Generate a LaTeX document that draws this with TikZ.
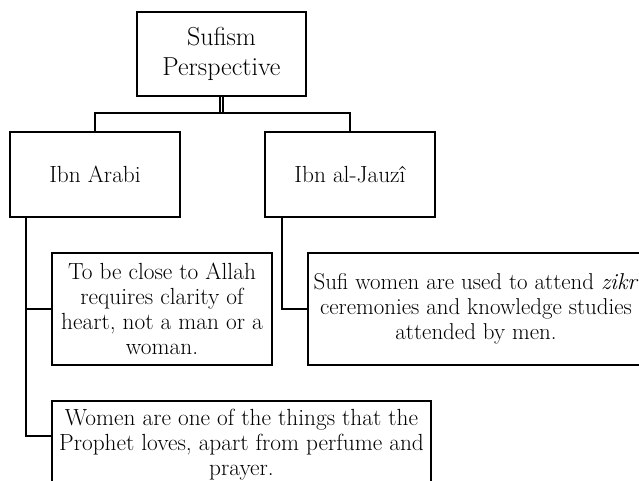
\documentclass[tikz,border=0pt]{standalone}
\usetikzlibrary{calc}
\begin{document}
\begin{tikzpicture}[x=0.75pt, y=-0.75pt,
    box/.style={draw, rectangle, line width=1.4pt, inner sep=0pt, align=center},
    link/.style={line width=1.4pt},
    txt/.style={font=\fontsize{17.5}{18.75}\selectfont}]
    \useasboundingbox (0,0) rectangle (639,481);
    \clip (0,0) rectangle (639,481);

    % Draw the root node
    \node[box, minimum width=126.75pt, minimum height=63pt, font=\fontsize{19.5}{22.5}\selectfont] (sufism) at (221.5, 54) {Sufism\\Perspective};

    % Draw nodes for the two scholars
    \node[box, txt, minimum width=127.5pt, minimum height=63.75pt] (arabi) at (95, 174.5) {Ibn Arabi};
    \node[box, txt, minimum width=127.5pt, minimum height=63.75pt] (jauzi) at (350, 174.5) {Ibn al-Jauzî};

    % Draw nodes for the views of Ibn Arabi
    \node[box, txt, minimum width=165pt, minimum height=84pt] (closeness) at (162, 309) {To be close to Allah\\requires clarity of\\heart, not a man or a\\woman.};
    \node[box, txt, minimum width=284.25pt, minimum height=65.25pt] (prophet) at (241.5, 444.5) {Women are one of the things that the\\Prophet loves, apart from perfume and\\prayer.};

    % Draw node for the view of Ibn al-Jauzi
    \node[box, font=\fontsize{17.2}{18.75}\selectfont, minimum width=252pt, minimum height=84pt] (zikr) at (476, 309) {Sufi women are used to attend \textit{zikr}\\ceremonies and knowledge studies\\attended by men.};

    % Draw edges from the root
    \coordinate (bar) at (221.5, 113);
    \draw[double, line width=0.9pt, double distance=1.3pt] (sufism.south) -- (bar);
    \draw[link] (arabi.north) |- (bar) -| (jauzi.north);

    % Draw edges for Ibn Arabi
    \coordinate (arabitrunk) at ($(arabi.south west)+(17,0)$);
    \coordinate (prophetjoin) at ($(prophet.north west)+(0,36)$);
    \draw[link] (arabitrunk) |- (closeness.west);
    \draw[link] (arabitrunk) |- (prophetjoin);

    % Draw edges for Ibn al-Jauzi
    \coordinate (jauzitrunk) at ($(jauzi.south west)+(18,0)$);
    \draw[link] (jauzitrunk) |- (zikr.west);
\end{tikzpicture}
\end{document}
